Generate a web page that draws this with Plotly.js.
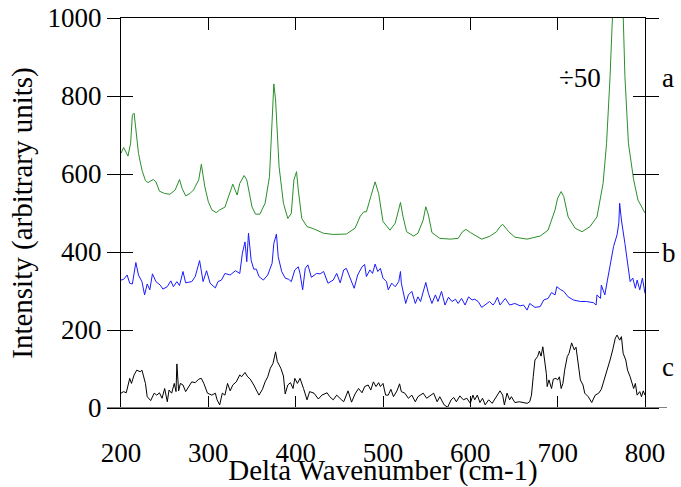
<!DOCTYPE html>
<html>
<head>
<meta charset="utf-8">
<script src="https://cdn.plot.ly/plotly-3.0.1.min.js"></script>
<style>html,body{margin:0;padding:0;background:#fff;}</style>
</head>
<body>
<div id="chart" style="width:681px;height:487px;"></div>
<script>
// Series a (green, scaled ÷50 for the big peak)
const aX = [200,203,208,211,213,215,220,224,228,231,
            237,240,244,250,256,262,267,270,274,279,
            283,289,292,296,300,304,309,313,319,324,
            328,333,336,341,344,350,354,359,365,370,
            374,375,377,381,386,391,395,398,401,403,
            407,413,420,432,443,458,468,474,478,481,
            486,491,495,500,508,514,520,523,527,535,
            540,546,549,552,556,565,577,586,591,595,
            600,605,613,622,630,634,637,644,651,665,
            680,689,697,700,704,707,712,720,728,737,
            745,752,756,760,763,766,769,772,775,777,
            781,787,792,800];
const aY = [653,668,646,679,751,756,653,610,583,578,
            586,580,556,550,548,559,586,563,544,550,
            559,585,625,567,529,508,501,508,515,546,
            574,546,576,596,585,516,497,497,525,593,
            764,831,790,619,525,486,499,585,606,559,
            486,465,460,448,445,446,461,492,503,503,
            542,580,550,478,456,474,527,490,452,441,
            448,482,516,495,450,435,433,435,452,458,
            450,444,433,440,452,465,471,452,438,433,
            441,456,508,538,555,542,490,461,452,465,
            490,576,679,850,995,1250,1350,1250,995,850,
            679,585,533,500];

// Series b (blue)
const bX = [200,203,207,210,213,217,220,224,227,230,
            233,236,240,245,248,253,257,260,264,267,
            271,274,281,285,290,294,298,302,308,311,
            315,319,325,331,336,339,342,344,346,349,
            352,355,358,363,368,373,375,378,380,384,
            388,392,395,399,403,405,408,411,414,418,
            424,428,432,437,443,447,451,455,458,462,
            467,471,476,479,481,485,488,491,494,497,
            500,504,506,510,514,518,520,521,524,526,
            529,533,537,540,543,547,549,552,556,560,
            563,567,571,575,579,583,586,590,594,598,
            602,605,609,613,617,622,626,628,631,634,
            640,645,651,657,661,665,668,674,680,684,
            689,693,697,699,703,707,712,718,726,733,
            741,744,745,749,750,754,757,760,764,768,
            770,771,773,777,781,783,786,789,791,794,
            797,800];
const bY = [328,330,341,320,318,373,341,324,290,318,
            303,344,324,315,305,311,326,311,324,314,
            350,321,324,337,378,324,352,320,308,324,
            328,345,341,352,345,397,426,375,448,379,
            356,356,337,328,341,371,422,446,388,350,
            333,330,324,354,362,345,303,358,367,335,
            345,344,350,320,328,345,321,354,358,337,
            307,341,362,368,337,354,345,369,350,358,
            333,324,303,320,311,324,350,320,290,268,
            290,299,268,285,273,307,322,294,268,290,
            273,299,264,284,273,279,268,281,264,285,
            277,279,273,258,264,273,264,270,284,264,
            281,264,268,262,264,251,268,258,260,277,
            281,296,290,311,304,299,285,277,273,273,
            270,264,290,281,315,290,328,362,414,444,
            474,525,482,422,362,324,333,307,328,303,
            333,294];

// Series c (black)
const cX = [200,203,206,207,210,212,215,218,222,224,
            228,230,234,238,241,244,247,250,253,255,
            258,261,263,264,266,268,271,274,278,281,
            285,289,292,295,299,304,308,310,313,316,
            319,322,325,328,332,336,338,342,345,348,
            352,355,358,362,365,368,371,374,377,379,
            383,386,388,391,394,397,399,402,405,409,
            413,416,421,426,430,436,439,443,447,452,
            455,460,464,468,472,476,479,483,486,489,
            492,495,497,500,503,506,509,512,516,519,
            521,525,529,533,537,540,546,550,555,558,
            562,565,570,574,578,581,584,588,592,596,
            600,603,605,608,611,614,617,621,625,628,
            631,634,637,639,642,645,647,651,656,661,
            665,668,670,672,674,677,679,681,683,685,
            687,688,690,693,695,698,700,702,704,706,
            708,711,713,716,719,721,723,726,729,731,
            735,739,743,747,750,752,754,756,760,763,
            766,768,771,773,775,778,780,783,785,787,
            789,791,794,796,798,800];
const cY = [38,42,39,50,76,63,85,97,93,97,
            63,29,19,38,33,39,25,50,16,46,
            38,63,42,113,44,63,59,42,56,67,
            65,74,76,62,38,33,38,21,8,38,
            33,63,44,59,67,85,80,91,80,74,
            59,46,33,48,67,80,102,114,144,119,
            102,82,36,59,65,50,76,63,76,50,
            21,42,38,23,33,39,29,21,33,22,
            16,44,15,36,50,39,55,59,46,67,
            55,65,55,63,33,33,48,29,44,62,
            42,38,25,33,16,29,38,25,33,38,
            16,29,8,2,21,27,16,31,21,25,
            12,33,21,33,14,25,8,21,12,22,
            33,44,33,8,38,21,29,14,16,14,
            12,16,33,80,123,132,146,133,157,123,
            89,55,72,50,74,76,72,80,50,63,
            97,132,140,167,149,156,123,72,59,38,
            29,14,33,38,48,63,72,89,123,149,
            179,187,174,183,140,123,97,80,63,50,
            63,33,42,29,44,33];

const xTicks = [200,300,400,500,600,700,800];
const yTicks = [0,200,400,600,800,1000];
const seriesLabels = ['a','b','c'];
const labelY = [846,397,105];
const scaleNote = '÷50';
const scaleNoteX = 726, scaleNoteY = 846;

const FONT = '"Liberation Serif", "Times New Roman", serif';

const traces = [
  {x:aX, y:aY, type:'scatter', mode:'lines', line:{color:'#2a8f2a', width:1}, hoverinfo:'skip'},
  {x:bX, y:bY, type:'scatter', mode:'lines', line:{color:'#1a1aff', width:1}, hoverinfo:'skip'},
  {x:cX, y:cY, type:'scatter', mode:'lines', line:{color:'#000000', width:1}, hoverinfo:'skip', yaxis:'y2'}
];

const annotations = seriesLabels.map((t,i)=>({
  text:t, xref:'paper', x:1, xanchor:'left', xshift:15,
  yref:'y', y:labelY[i], yanchor:'middle', showarrow:false,
  font:{family:FONT, size:27, color:'#000'}
}));
annotations.push({
  text:scaleNote, xref:'x', yref:'y', x:scaleNoteX, y:scaleNoteY,
  xanchor:'center', yanchor:'middle', showarrow:false,
  font:{family:FONT, size:27, color:'#000'}
});

const layout = {
  width:681, height:487,
  margin:{l:121, r:36, t:18, b:79, pad:0},
  paper_bgcolor:'#fff', plot_bgcolor:'#fff',
  showlegend:false,
  font:{family:FONT, color:'#000'},
  xaxis:{
    range:[200,800], tickvals:xTicks, ticktext:xTicks.map(String),
    ticks:'inside', ticklen:12, tickwidth:1, tickcolor:'#000',
    showline:true, linecolor:'#000', linewidth:1, mirror:'ticks',
    showgrid:false, zeroline:false,
    tickfont:{family:FONT, size:27, color:'#000'},
    ticklabelstandoff:21,
    title:{text:'Delta Wavenumber (cm-1)', font:{family:FONT, size:29, color:'#000'}, standoff:4}
  },
  yaxis:{
    range:[0,1000], tickvals:yTicks, ticktext:yTicks.map(String),
    ticks:'outside', ticklen:13, tickwidth:1, tickcolor:'#000',
    showline:true, linecolor:'#000', linewidth:1, mirror:'ticks',
    showgrid:false, zeroline:false,
    tickfont:{family:FONT, size:27, color:'#000'},
    title:{text:'Intensity (arbitrary units)', font:{family:FONT, size:29, color:'#000'}, standoff:6}
  },
  yaxis2:{
    overlaying:'y', range:[0,1000], tickvals:yTicks,
    ticks:'inside', ticklen:12, tickwidth:1, tickcolor:'#000',
    showline:true, linecolor:'#000', linewidth:1, mirror:'ticks',
    showgrid:false, zeroline:false, showticklabels:false
  },
  shapes:[{
    type:'line', xref:'paper', yref:'y', x0:-0.027, x1:1.042, y0:0, y1:0,
    line:{color:'#808080', width:2}, layer:'above'
  }],
  annotations:annotations
};

Plotly.newPlot('chart', traces, layout, {staticPlot:true, displayModeBar:false});
</script>
</body>
</html>
